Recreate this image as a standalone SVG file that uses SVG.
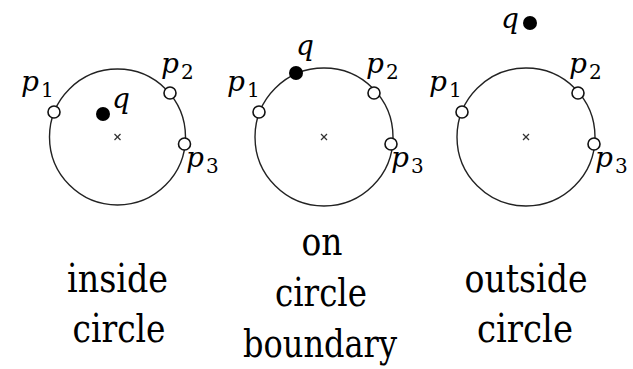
<svg xmlns="http://www.w3.org/2000/svg" width="633" height="369" viewBox="0 0 633 369">
<style>
.ring{fill:none;stroke:#222;stroke-width:1.4}
.open{fill:#fff;stroke:#111;stroke-width:1.6}
.filled{fill:#000}
.cross{stroke:#333;stroke-width:1.2}
text{font-family:'DejaVu Serif','Noto Serif',serif;fill:#000}
.m{font-style:italic;font-size:28px}
.s{font-size:20px}
.cap{font-size:39px;text-anchor:middle}
</style>
<defs>
<g id="xmark"><line class="cross" x1="-3" y1="-3" x2="3" y2="3"/><line class="cross" x1="-3" y1="3" x2="3" y2="-3"/></g>
</defs>

<g id="panel-inside">
  <circle class="ring" cx="117.5" cy="137" r="68"/>
  <use href="#xmark" x="117.5" y="137"/>
  <g id="in-p1"><circle class="open" cx="54" cy="112" r="6"/><text class="m" x="21" y="91">p</text><text class="s" x="41" y="97">1</text></g>
  <g id="in-p2"><circle class="open" cx="170" cy="93" r="6"/><text class="m" x="161" y="73">p</text><text class="s" x="181" y="79">2</text></g>
  <g id="in-p3"><circle class="open" cx="184.5" cy="144" r="6"/><text class="m" x="186" y="167">p</text><text class="s" x="206" y="173">3</text></g>
  <g id="in-q"><circle class="filled" cx="103" cy="114" r="7"/><text class="m" x="112" y="108">q</text></g>
  <text class="cap" x="117.5" y="292" textLength="101" lengthAdjust="spacingAndGlyphs">inside</text>
  <text class="cap" x="119" y="342" textLength="93" lengthAdjust="spacingAndGlyphs">circle</text>
</g>

<g id="panel-on">
  <circle class="ring" cx="324" cy="137" r="69"/>
  <use href="#xmark" x="324" y="137"/>
  <g id="on-p1"><circle class="open" cx="259" cy="112" r="6"/><text class="m" x="227" y="91">p</text><text class="s" x="247" y="97">1</text></g>
  <g id="on-p2"><circle class="open" cx="374" cy="93" r="6"/><text class="m" x="366" y="73">p</text><text class="s" x="386" y="79">2</text></g>
  <g id="on-p3"><circle class="open" cx="391" cy="144" r="6"/><text class="m" x="391" y="167">p</text><text class="s" x="411" y="173">3</text></g>
  <g id="on-q"><circle class="filled" cx="296" cy="73" r="7"/><text class="m" x="296" y="55">q</text></g>
  <text class="cap" x="322" y="255" textLength="41" lengthAdjust="spacingAndGlyphs">on</text>
  <text class="cap" x="321" y="306" textLength="92" lengthAdjust="spacingAndGlyphs">circle</text>
  <text class="cap" x="320" y="357" textLength="154" lengthAdjust="spacingAndGlyphs">boundary</text>
</g>

<g id="panel-outside">
  <circle class="ring" cx="526" cy="137" r="69"/>
  <use href="#xmark" x="526" y="137"/>
  <g id="out-p1"><circle class="open" cx="462" cy="112" r="6"/><text class="m" x="429" y="91">p</text><text class="s" x="449" y="97">1</text></g>
  <g id="out-p2"><circle class="open" cx="578" cy="93" r="6"/><text class="m" x="569" y="73">p</text><text class="s" x="589" y="79">2</text></g>
  <g id="out-p3"><circle class="open" cx="594" cy="144" r="6"/><text class="m" x="595" y="167">p</text><text class="s" x="615" y="173">3</text></g>
  <g id="out-q"><circle class="filled" cx="530" cy="23" r="7"/><text class="m" x="501" y="28">q</text></g>
  <text class="cap" x="526" y="292" textLength="123" lengthAdjust="spacingAndGlyphs">outside</text>
  <text class="cap" x="525" y="342" textLength="96" lengthAdjust="spacingAndGlyphs">circle</text>
</g>
<g id="connectors"/>
</svg>
